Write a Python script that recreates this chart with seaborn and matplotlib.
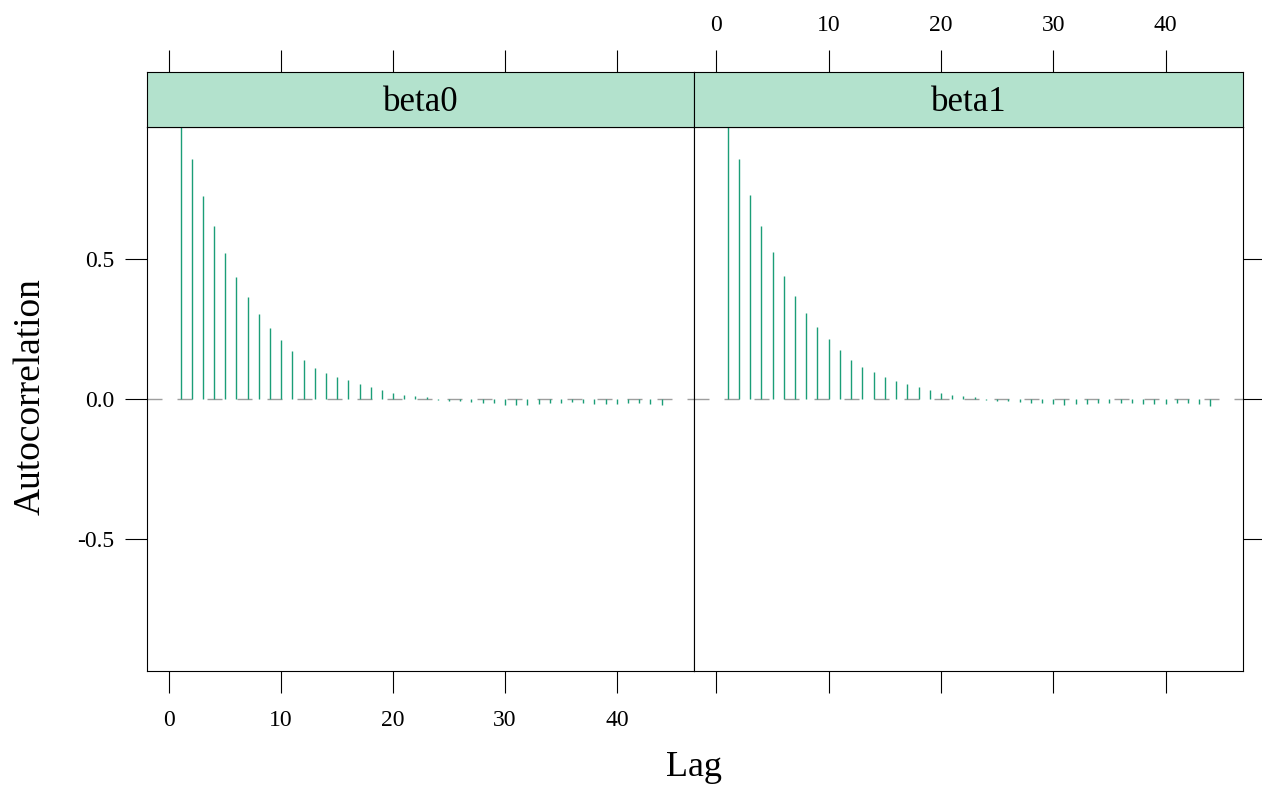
import numpy as np
import pandas as pd
import matplotlib
matplotlib.use("Agg")
import matplotlib.pyplot as plt
import seaborn as sns

# ---- data ----
lags = list(range(1, 45))
beta0_acf = [1.0, 0.856, 0.726, 0.618, 0.521, 0.436, 0.363, 0.304, 0.255, 0.211,
             0.171, 0.139, 0.112, 0.093, 0.079, 0.068, 0.055, 0.042, 0.032, 0.021,
             0.014, 0.010, 0.006, -0.002, -0.006, -0.006, -0.009, -0.013, -0.013, -0.020,
             -0.023, -0.020, -0.018, -0.013, -0.013, -0.011, -0.013, -0.017, -0.017, -0.017,
             -0.013, -0.013, -0.018, -0.023]
beta1_acf = [1.0, 0.856, 0.727, 0.618, 0.523, 0.440, 0.366, 0.306, 0.257, 0.213,
             0.174, 0.140, 0.114, 0.095, 0.079, 0.065, 0.053, 0.042, 0.032, 0.022,
             0.016, 0.010, 0.006, -0.002, -0.006, -0.006, -0.009, -0.013, -0.013, -0.019,
             -0.022, -0.019, -0.017, -0.013, -0.013, -0.013, -0.015, -0.017, -0.017, -0.017,
             -0.013, -0.013, -0.018, -0.025]
panels = ["beta0", "beta1"]
x_ticks = [0, 10, 20, 30, 40]
y_ticks = [-0.5, 0.0, 0.5]
y_ticklabels = ["-0.5", "0.0", "0.5"]

df = pd.DataFrame({
    "Lag": lags * 2,
    "ACF": beta0_acf + beta1_acf,
    "param": [panels[0]] * len(lags) + [panels[1]] * len(lags),
})

sns.set_theme(style="white")
plt.rcParams["font.family"] = ["Liberation Serif", "DejaVu Serif"]
plt.rcParams["text.color"] = "black"

BAR = "#1b9e77"
STRIP = "#b3e2cd"
BASE = "#9e9e9e"

g = sns.FacetGrid(df, col="param", col_order=panels, sharey=True, sharex=True,
                  despine=False, height=4, aspect=1)


def draw(data, color=None, **kw):
    ax = plt.gca()
    ax.axhline(0, color=BASE, lw=1.0, ls=(0, (10.8, 10.8)), zorder=1)
    ax.vlines(data["Lag"], 0, data["ACF"], color=BAR, lw=1.0, zorder=2)


g.map_dataframe(draw)
g.set_titles("")
g.set_axis_labels("", "")

fig = g.figure
fig.set_size_inches(12.62, 7.89)
fig.set_dpi(100)
W, H = 1262.0, 789.0

xlim = (-2.0, 46.9)
ylim = (-0.971, 0.971)
tick_kw = dict(direction="out", length=15.8, width=0.8, color="black",
               labelsize=17, labelcolor="black", pad=12)

lefts = [147, 694]
rights = [694, 1243]
plot_top, plot_bot, strip_top = 127, 671, 72

for i, ax in enumerate(g.axes.flat):
    x0 = lefts[i] / W
    w = (rights[i] - lefts[i]) / W
    ax.set_position([x0, 1 - plot_bot / H, w, (plot_bot - plot_top) / H])
    ax.set_xlim(*xlim)
    ax.set_ylim(*ylim)
    ax.set_xticks(x_ticks)
    ax.set_xticklabels([str(t) for t in x_ticks])
    ax.set_yticks(y_ticks)
    ax.set_yticklabels(y_ticklabels)
    ax.set_title("")
    ax.set_xlabel("")
    ax.set_ylabel("")
    for s in ax.spines.values():
        s.set_color("black")
        s.set_linewidth(0.8)
    ax.tick_params(axis="both", **tick_kw)
    if i == 0:
        ax.tick_params(axis="x", bottom=True, labelbottom=True, top=False, labeltop=False)
        ax.tick_params(axis="y", left=True, labelleft=True, right=False,
                       labelright=False, pad=8)
    else:
        ax.tick_params(axis="x", bottom=True, labelbottom=False, top=False, labeltop=False)
        ax.tick_params(axis="y", left=False, labelleft=False, right=True, labelright=False)

    # strip
    sax = fig.add_axes([x0, 1 - plot_top / H, w, (plot_top - strip_top) / H])
    sax.set_facecolor(STRIP)
    sax.set_xlim(*xlim)
    sax.set_ylim(0, 1)
    sax.set_yticks([])
    sax.set_xticks(x_ticks)
    sax.set_xticklabels([str(t) for t in x_ticks])
    for s in sax.spines.values():
        s.set_color("black")
        s.set_linewidth(0.8)
    sax.tick_params(axis="x", **tick_kw)
    sax.tick_params(axis="x", bottom=False, labelbottom=False, top=True,
                    labeltop=(i == 1), pad=10)
    sax.text(0.5, 0.45, panels[i], transform=sax.transAxes, ha="center",
             va="center", fontsize=25, color="black")

fig.text(694 / W, 1 - 768 / H, "Lag", ha="center", va="center", fontsize=26,
         color="black")
fig.text(30 / W, 1 - 397 / H, "Autocorrelation", ha="center", va="center",
         rotation=90, fontsize=27, color="black")

fig.savefig("out.png", dpi=100)
